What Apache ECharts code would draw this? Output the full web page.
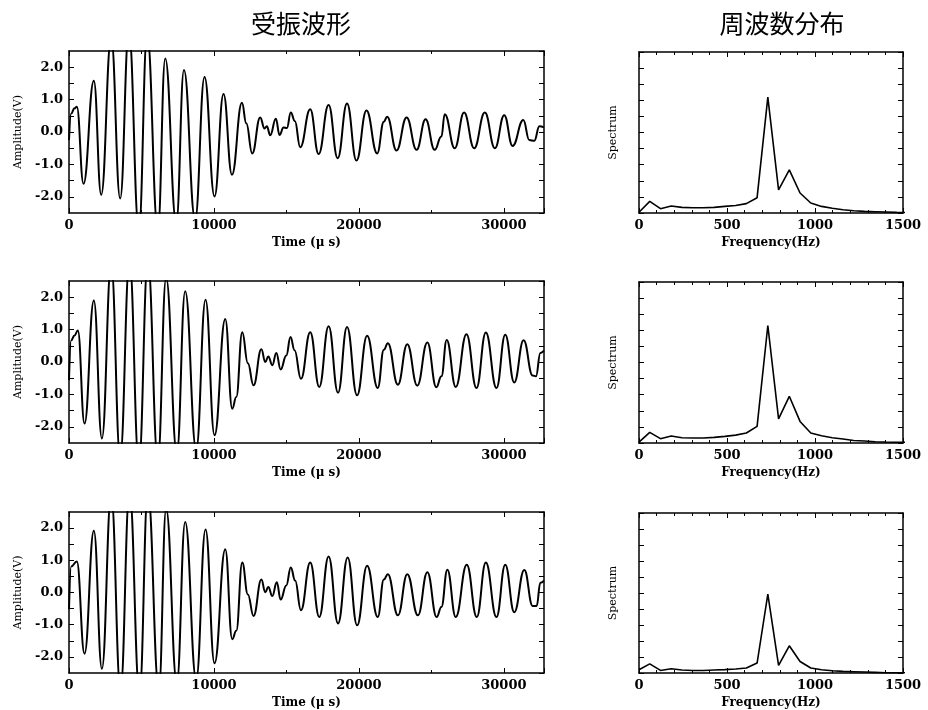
<!DOCTYPE html>
<html>
<head>
<meta charset="utf-8">
<title>受振波形 / 周波数分布</title>
<script src="https://cdn.jsdelivr.net/npm/echarts@6/dist/echarts.min.js"></script>
<style>
html, body { margin: 0; padding: 0; background: #fff; }
#chart { width: 928px; height: 710px; }
</style>
</head>
<body>
<div id="chart"></div>
<script>
// waveform samples (time in µs, amplitude in V)
var waveTime1 = [0, 150, 380, 540, 1000, 1714, 2220, 2910, 3530, 4130, 4820, 5390, 6130, 6640, 7400, 7930, 8700, 9350, 10040, 10660, 11240, 11930, 12230, 12640, 13190, 13490, 13650, 13880, 14270, 14525, 14800, 15030, 15300, 15580, 15950, 16640, 17220, 17910, 18535, 19180, 19830, 20520, 21260, 21720, 21950, 22595, 23290, 23980, 24600, 25225, 25690, 25920, 26610, 27255, 27950, 28685, 29380, 30025, 30600, 31340, 31755, 32100, 32450, 32760];
var waveAmp1 = [-0.25, 0.57, 0.73, 0.78, -1.6, 1.58, -1.94, 2.9, -2.05, 3.1, -3.0, 3.0, -3.0, 2.27, -2.8, 1.91, -2.7, 1.7, -1.99, 1.17, -1.32, 0.9, 0.27, -0.66, 0.45, 0.11, 0.18, -0.1, 0.41, -0.09, 0.14, 0.12, 0.6, 0.34, -0.47, 0.7, -0.68, 0.83, -0.81, 0.88, -0.88, 0.66, -0.66, 0.32, 0.47, -0.57, 0.45, -0.55, 0.39, -0.55, -0.14, 0.55, -0.5, 0.6, -0.5, 0.6, -0.5, 0.52, -0.43, 0.37, -0.25, -0.27, 0.18, 0.14];

var waveTime2 = [0, 150, 380, 610, 1070, 1715, 2270, 2910, 3530, 4175, 4820, 5440, 6130, 6700, 7440, 8015, 8775, 9420, 10040, 10780, 11260, 11540, 11950, 12340, 12730, 13270, 13540, 13750, 14025, 14300, 14600, 14990, 15280, 15560, 16000, 16640, 17265, 17910, 18560, 19180, 19870, 20565, 21300, 21720, 21995, 22690, 23335, 24025, 24720, 25340, 25690, 26055, 26680, 27420, 28110, 28755, 29490, 30095, 30715, 31360, 31985, 32215, 32515, 32760];
var waveAmp2 = [-0.56, 0.67, 0.82, 0.97, -1.9, 1.9, -2.36, 3.0, -2.9, 3.1, -3.1, 3.1, -3.0, 2.6, -2.8, 2.18, -2.7, 1.92, -2.26, 1.33, -1.44, -1.08, 0.92, -0.04, -0.72, 0.39, 0.0, 0.17, -0.1, 0.28, -0.23, 0.2, 0.77, 0.36, -0.52, 0.92, -0.77, 1.1, -0.95, 1.08, -1.03, 0.81, -0.8, 0.38, 0.58, -0.7, 0.55, -0.73, 0.6, -0.78, -0.44, 0.68, -0.77, 0.86, -0.8, 0.91, -0.8, 0.84, -0.63, 0.67, -0.42, -0.44, 0.28, 0.35];

var waveTime3 = [0, 150, 540, 1070, 1715, 2270, 2910, 3555, 4175, 4865, 5440, 6200, 6700, 7440, 8015, 8775, 9420, 10040, 10780, 11260, 11540, 11950, 12340, 12730, 13270, 13540, 13750, 14025, 14335, 14600, 14990, 15300, 15600, 16000, 16640, 17265, 17910, 18560, 19225, 19875, 20565, 21300, 21720, 21995, 22690, 23335, 24070, 24720, 25365, 25690, 26100, 26680, 27440, 28130, 28755, 29490, 30095, 30715, 31410, 31985, 32260, 32515, 32760];
var waveAmp3 = [-0.52, 0.81, 0.96, -1.9, 1.92, -2.37, 3.0, -3.0, 3.1, -3.1, 3.1, -3.0, 2.6, -2.8, 2.19, -2.7, 1.96, -2.2, 1.34, -1.45, -1.19, 0.93, -0.06, -0.73, 0.4, 0.01, 0.17, -0.11, 0.32, -0.22, 0.22, 0.78, 0.37, -0.55, 0.93, -0.76, 1.12, -0.96, 1.09, -1.02, 0.83, -0.76, 0.4, 0.57, -0.71, 0.57, -0.71, 0.63, -0.76, -0.45, 0.71, -0.76, 0.86, -0.76, 0.93, -0.76, 0.86, -0.61, 0.7, -0.42, -0.42, 0.3, 0.37];

// spectra (frequency in Hz, relative level 0-10)
var freq = [0, 61, 122, 183, 244, 305, 366, 427, 488, 549, 610, 671, 732, 793, 854, 915, 976, 1037, 1098, 1159, 1220, 1281, 1342, 1403, 1464, 1525];
var spec1 = [0.05, 0.72, 0.27, 0.43, 0.35, 0.33, 0.33, 0.35, 0.41, 0.47, 0.58, 0.95, 7.2, 1.44, 2.68, 1.24, 0.62, 0.41, 0.29, 0.2, 0.14, 0.1, 0.08, 0.06, 0.04, 0.03];
var spec2 = [0.05, 0.66, 0.27, 0.43, 0.33, 0.31, 0.31, 0.35, 0.41, 0.49, 0.62, 1.03, 7.3, 1.5, 2.9, 1.34, 0.62, 0.45, 0.33, 0.25, 0.16, 0.12, 0.08, 0.06, 0.05, 0.04];
var spec3 = [0.2, 0.57, 0.16, 0.27, 0.19, 0.16, 0.16, 0.19, 0.21, 0.25, 0.31, 0.62, 4.93, 0.47, 1.7, 0.72, 0.31, 0.2, 0.14, 0.1, 0.08, 0.06, 0.04, 0.02, 0.02, 0.02];

var titles = ["受振波形", "周波数分布"];
var ampTicks = [-2, -1, 0, 1, 2];

var waves = [[waveTime1, waveAmp1], [waveTime2, waveAmp2], [waveTime3, waveAmp3]];
var specs = [spec1, spec2, spec3];

var serif = "DejaVu Serif";
var rowTop = [51, 281, 512];

function pairs(xs, ys) {
  return xs.map(function (x, i) { return [x, ys[i]]; });
}

var grids = [], xAxes = [], yAxes = [], series = [];

function addAxes(gi, xa, ya) {
  var line = { show: true, onZero: false, lineStyle: { color: "#000", width: 1.5 } };
  var tick = { show: true, inside: true, length: 5, lineStyle: { color: "#000", width: 1 } };
  var minor = function (n) {
    return { show: n > 0, splitNumber: n || 5, length: 3, lineStyle: { color: "#000", width: 1 } };
  };
  // bottom + top
  xAxes.push(Object.assign({
    type: "value", gridIndex: gi, position: "bottom",
    axisLine: line, axisTick: tick, minorTick: minor(xa.minor),
    splitLine: { show: false },
    axisLabel: {
      color: "#000", fontFamily: serif, fontSize: 13, fontWeight: "bold", margin: 6,
      showMaxLabel: xa.showMax,
      formatter: function (v) { return String(v); }
    },
    name: xa.name, nameLocation: "middle", nameGap: 24,
    nameTextStyle: { color: "#000", fontFamily: serif, fontSize: 12, fontWeight: "bold" }
  }, xa.range));
  xAxes.push(Object.assign({
    type: "value", gridIndex: gi, position: "top",
    axisLine: line, axisTick: tick, minorTick: minor(xa.minor),
    splitLine: { show: false }, axisLabel: { show: false }
  }, xa.range));
  // left + right
  yAxes.push(Object.assign({
    type: "value", gridIndex: gi, position: "left",
    axisLine: line, axisTick: tick, minorTick: minor(0),
    splitLine: { show: false },
    axisLabel: ya.label,
    name: ya.name, nameLocation: "middle", nameGap: ya.gap, nameRotate: 90,
    nameTextStyle: { color: "#000", fontFamily: serif, fontSize: 11 }
  }, ya.range));
  yAxes.push(Object.assign({
    type: "value", gridIndex: gi, position: "right",
    axisLine: line, axisTick: tick, minorTick: minor(0),
    splitLine: { show: false }, axisLabel: { show: false }
  }, ya.range));
}

for (var r = 0; r < 3; r++) {
  // waveform
  var gw = grids.length;
  grids.push({ left: 69, top: rowTop[r], width: 475, height: 162 });
  addAxes(gw,
    { range: { min: 0, max: 32768, interval: 10000 }, minor: 2, showMax: false, name: "Time (μ s)" },
    {
      range: { min: -2.5, max: 2.5, interval: 0.5 },
      name: "Amplitude(V)", gap: 44,
      label: {
        color: "#000", fontFamily: serif, fontSize: 13, fontWeight: "bold", margin: 6,
        showMinLabel: false, showMaxLabel: false,
        formatter: function (v) {
          return ampTicks.indexOf(Math.round(v * 10) / 10) >= 0 ? v.toFixed(1) : "";
        }
      }
    });
  series.push({
    type: "line", xAxisIndex: gw * 2, yAxisIndex: gw * 2,
    data: pairs(waves[r][0], waves[r][1]),
    smooth: 0.45, smoothMonotone: "x", showSymbol: false, clip: true,
    lineStyle: { color: "#000", width: 2 }, animation: false
  });

  // spectrum
  var gs = grids.length;
  grids.push({ left: 639, top: rowTop[r] + 1, width: 264, height: 161 });
  addAxes(gs,
    { range: { min: 0, max: 1500, interval: 500 }, minor: 5, showMax: true, name: "Frequency(Hz)" },
    { range: { min: 0, max: 10, interval: 1 }, name: "Spectrum", gap: 20, label: { show: false } });
  series.push({
    type: "line", xAxisIndex: gs * 2, yAxisIndex: gs * 2,
    data: pairs(freq, specs[r]),
    showSymbol: false, clip: true,
    lineStyle: { color: "#000", width: 1.6 }, animation: false
  });
}

var chart = echarts.init(document.getElementById("chart"), null, { renderer: "canvas" });
chart.setOption({
  backgroundColor: "#fff",
  animation: false,
  title: [
    { text: titles[0], left: 296, top: 6, textAlign: "center",
      textStyle: { fontFamily: "Noto Sans CJK JP", fontSize: 25, fontWeight: "normal", color: "#000" } },
    { text: titles[1], left: 777, top: 6, textAlign: "center",
      textStyle: { fontFamily: "Noto Sans CJK JP", fontSize: 25, fontWeight: "normal", color: "#000" } }
  ],
  grid: grids,
  xAxis: xAxes,
  yAxis: yAxes,
  series: series
});
</script>
</body>
</html>
